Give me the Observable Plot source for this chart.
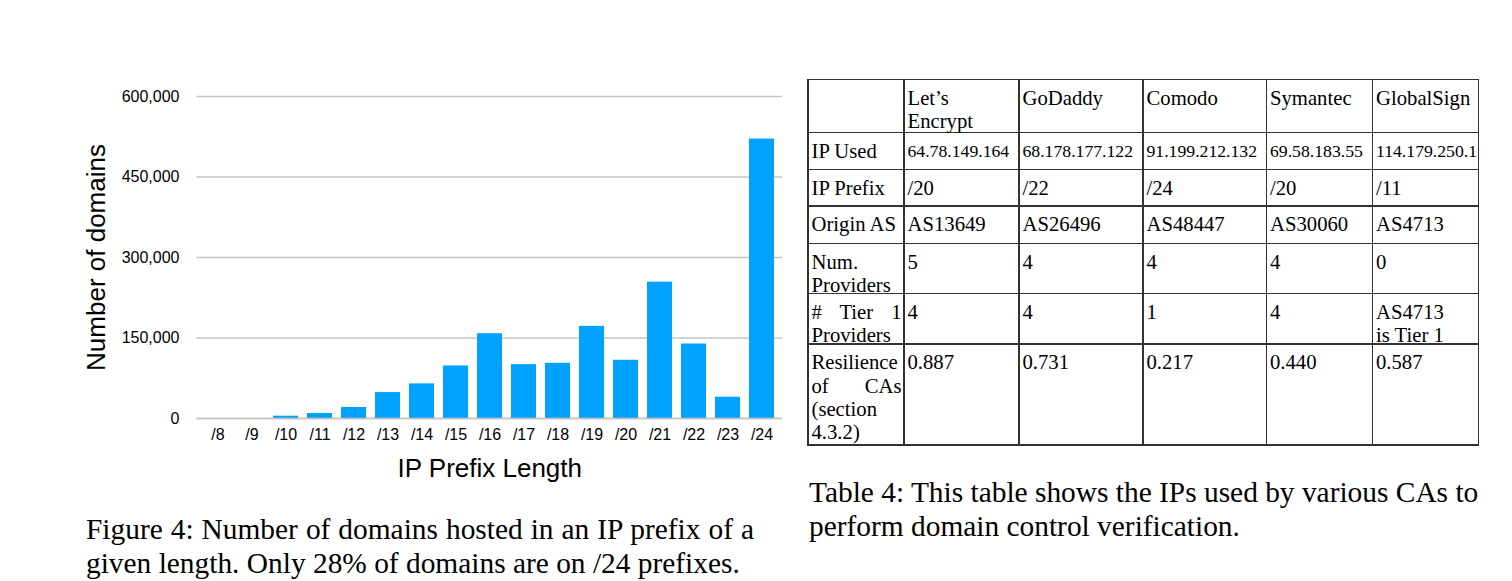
<!DOCTYPE html>
<html>
<head>
<meta charset="utf-8">
<script src="https://cdn.jsdelivr.net/npm/d3@7"></script>
<script src="https://cdn.jsdelivr.net/npm/@observablehq/plot@0.6"></script>
<style>
  html, body { margin: 0; padding: 0; background: #fff; }
  #page { position: relative; width: 1512px; height: 581px; overflow: hidden; background: #fff; }
  #chart { position: absolute; left: 0; top: 0; }
  .serif { font-family: "Liberation Serif", "Times New Roman", serif; color: #000; }
  .cap { position: absolute; font-size: 29.4px; line-height: 29.4px; white-space: nowrap; }
  .just { text-align: justify; text-align-last: justify; }
  .hl { position: absolute; height: 1.5px; background: #333; }
  .vl { position: absolute; width: 1.5px; background: #333; }
  .cell { position: absolute; font-size: 20.7px; line-height: 23.3px; white-space: pre-line; hyphens: none; }
  .cell.first { text-align: justify; }
  .cell.small { font-size: 17.7px; white-space: nowrap; }
</style>
</head>
<body>
<div id="page">
  <div id="chart"></div>
  <div id="table"></div>
  <div class="serif cap just" style="left:86px; top:515.3px; width:668px;">Figure 4: Number of domains hosted in an IP prefix of a</div>
  <div class="serif cap" style="left:86px; top:549.3px;">given length. Only 28% of domains are on /24 prefixes.</div>
  <div class="serif cap just" style="left:809px; top:478.3px; width:669px;">Table 4: This table shows the IPs used by various CAs to</div>
  <div class="serif cap" style="left:809px; top:512.3px;">perform domain control verification.</div>
</div>
<script>
// ---- Chart data ----
const prefixes = ["/8", "/9", "/10", "/11", "/12", "/13", "/14", "/15", "/16", "/17", "/18", "/19", "/20", "/21", "/22", "/23", "/24"];
const domains = [0, 0, 4300, 9300, 20500, 48300, 64500, 97900, 158000, 100400, 102900, 171700, 108500, 254100, 138800, 39700, 520700];
const yTicks = [0, 150000, 300000, 450000, 600000];
const xTitle = "IP Prefix Length";
const yTitle = "Number of domains";

// ---- Table data ----
const cas = ["Let’s\nEncrypt", "GoDaddy", "Comodo", "Symantec", "GlobalSign"];
const rowLabels = ["IP Used", "IP Prefix", "Origin AS", "Num. Providers", "# Tier 1 Providers", "Resilience of CAs (section 4.3.2)"];
const ipUsed = ["64.78.149.164", "68.178.177.122", "91.199.212.132", "69.58.183.55", "114.179.250.1"];
const ipPrefix = ["/20", "/22", "/24", "/20", "/11"];
const originAS = ["AS13649", "AS26496", "AS48447", "AS30060", "AS4713"];
const numProviders = ["5", "4", "4", "4", "0"];
const tier1Providers = ["4", "4", "1", "4", "AS4713\nis Tier 1"];
const resilience = ["0.887", "0.731", "0.217", "0.440", "0.587"];

const data = prefixes.map((p, i) => ({prefix: p, count: domains[i]}));

const chart = Plot.plot({
  width: 800,
  height: 500,
  marginLeft: 196.5,
  marginRight: 18,
  marginTop: 96,
  marginBottom: 82,
  style: {fontFamily: "'Liberation Sans', Arial, Helvetica, sans-serif", fontSize: "16px", color: "#000", background: "transparent", overflow: "visible"},
  x: {domain: prefixes, paddingInner: 0.265, paddingOuter: 0.15, label: null},
  y: {domain: [0, 600000], label: null},
  marks: [
    Plot.gridY(yTicks, {stroke: "#c4c4c4", strokeOpacity: 1, strokeWidth: 1.5}),
    Plot.barY(data.filter(d => d.count > 0), {x: "prefix", y: "count", fill: "#00a2ff"}),
    Plot.ruleY([0], {stroke: "#c4c4c4", strokeWidth: 1.5}),
    Plot.axisY(yTicks, {tickSize: 0, tickPadding: 17.5, tickFormat: d3.format(","), label: null, fontSize: 16}),
    Plot.axisX({tickSize: 0, tickPadding: 10, label: null, fontSize: 16}),
    Plot.text([xTitle], {text: d => d, frameAnchor: "bottom", lineAnchor: "bottom", dy: 58.5, fontSize: 26, fill: "#000"}),
    Plot.text([yTitle], {text: d => d, frameAnchor: "left", textAnchor: "middle", lineAnchor: "top", rotate: -90, dx: -110, fontSize: 26, fill: "#000"})
  ]
});
document.getElementById("chart").appendChild(chart);

// ---- Table layout ----
const colX = [808, 904, 1019, 1143, 1266.5, 1372.5, 1478.5];
const rowY = [79.3, 132.7, 169.3, 206, 243.3, 293.3, 344, 445];
const table = document.getElementById("table");
function add(cls, style, text) {
  const d = document.createElement("div");
  d.className = cls;
  Object.assign(d.style, style);
  if (text != null) d.textContent = text;
  table.appendChild(d);
  return d;
}
for (const y of rowY) add("hl", {left: (colX[0] - 0.75) + "px", top: (y - 0.75) + "px", width: (colX[colX.length - 1] - colX[0] + 1.5) + "px"});
for (const x of colX) add("vl", {left: (x - 0.75) + "px", top: (rowY[0] - 0.75) + "px", height: (rowY[rowY.length - 1] - rowY[0] + 1.5) + "px"});

const body = [ipUsed, ipPrefix, originAS, numProviders, tier1Providers, resilience];
const rows = [["", ...cas]].concat(rowLabels.map((l, i) => [l, ...body[i]]));
rows.forEach((row, j) => {
  row.forEach((txt, i) => {
    if (!txt) return;
    let cls = "serif cell";
    if (i === 0) cls += " first";
    if (j === 1 && i > 0) cls += " small";
    add(cls, {
      left: (colX[i] + 3.5) + "px",
      top: (rowY[j] + 7.4) + "px",
      width: (colX[i + 1] - colX[i] - 6) + "px"
    }, txt);
  });
});
</script>
</body>
</html>
